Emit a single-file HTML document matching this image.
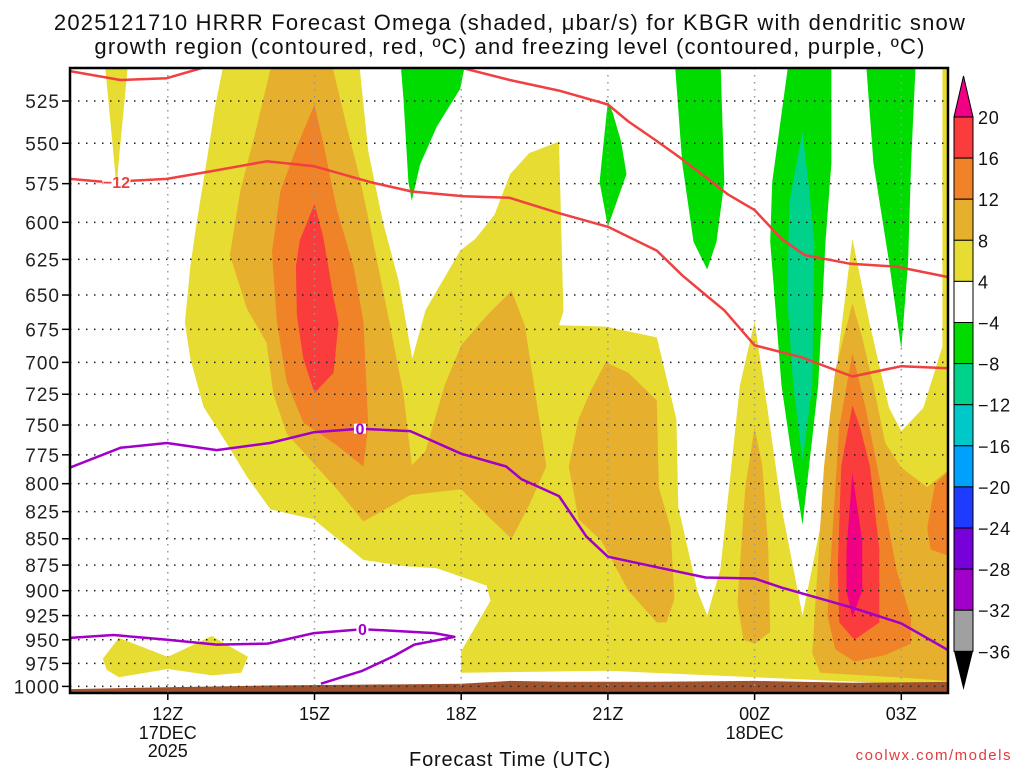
<!DOCTYPE html>
<html><head><meta charset="utf-8"><style>
body{margin:0;background:#fff;}
svg{display:block;font-family:"Liberation Sans",sans-serif;}
</style></head><body>
<svg id="chart" width="1024" height="768" viewBox="0 0 1024 768">
<defs><clipPath id="plotclip"><rect x="70" y="68" width="878" height="625"/></clipPath></defs>
<g id="titles">
<text x="510" y="30" text-anchor="middle" font-size="22" letter-spacing="1.2" fill="#111">2025121710 HRRR Forecast Omega (shaded, μbar/s) for KBGR with dendritic snow</text>
<text x="510" y="54" text-anchor="middle" font-size="22" letter-spacing="1.2" fill="#111">growth region (contoured, red, ºC) and freezing level (contoured, purple, ºC)</text>
</g>
<g id="shade" clip-path="url(#plotclip)"></g>
<g id="grid"></g>
<g id="lines" clip-path="url(#plotclip)"></g>
<g id="axes"></g>
<g id="cbar"></g>
<text x="510" y="766" text-anchor="middle" font-size="20" letter-spacing="0.8" fill="#111">Forecast Time (UTC)</text>
<text x="1012" y="760" text-anchor="end" font-size="15" fill="#e03c3c" letter-spacing="1.5">coolwx.com/models</text>
</svg>
<script>
// ---- data ----
const pressureTicks=[525,550,575,600,625,650,675,700,725,750,775,800,825,850,875,900,925,950,975,1000];
const timeTickHours=[12,15,18,21,24,27];
const timeTickLabels=["12Z","15Z","18Z","21Z","00Z","03Z"];
const dateLabelHours=[12,24];
const dateLabels=[["17DEC","2025"],["18DEC"]];
const cbarLevels=["20","16","12","8","4","−4","−8","−12","−16","−20","−24","−28","−32","−36"];
const cbarColors=["#fa3c3c","#f08228","#e6af2d","#e6dc32","#ffffff","#00dc00","#00d28c","#00c8c8","#00a0ff","#1e3cff","#7800d8","#a000c8","#a0a0a0"];
// shaded regions: [hour, pressure] outlines
const whiteLeft=[[10,500],[13.17,500],[12.97,528],[12.8,560],[12.59,600],[12.46,630],[12.35,670],[12.46,697],[12.73,735],[13.2,765],[13.62,794],[14.1,823],[14.98,832],[16.0,870],[16.82,876],[17.5,878],[18.52,895],[18.6,910],[18,962],[18,985],[18,1010],[10,1010]];
const whiteMid=[[15.9,500],[27.84,500],[27.84,688],[27.45,736],[27,755],[26.75,736],[26.36,672],[26.0,611],[25.73,687],[25.34,840],[24.98,925],[24.55,821],[24.32,752],[24.0,669],[23.7,718],[23.3,879],[23.03,925],[22.83,900],[22.44,821],[22.4,745],[22.0,681],[20.95,673],[20.0,672],[20.09,662],[20.0,549],[19.39,556],[19.0,569],[18.68,595],[18.29,611],[17.98,619],[17.27,661],[17.0,697],[16.72,640],[16.4,600],[16.1,555]];
const whiteBottom=[[18,985],[21,983],[24,990],[27,997],[28.2,998],[28.2,1010],[18,1010]];
const yellowSliver=[[10.7,500],[11.2,500],[11.0,560],[10.95,578],[10.9,560]];
const yellowLow=[[10.67,970],[11.0,948],[12,968],[12.9,946],[13.64,968],[13.5,985],[12.9,988],[12,981],[11.0,990],[10.75,982]];
const orange8a=[[14.16,500],[15.32,500],[15.66,540],[15.93,572],[16.2,613],[16.55,673],[16.82,725],[16.99,784],[17.27,772],[17.66,718],[18.0,687],[18.52,665],[19.03,647],[19.3,672],[19.62,751],[19.74,785],[19.39,819],[19.03,850],[18.52,828],[18.0,805],[16.96,810],[16.0,834],[15.46,805],[14.91,779],[14.43,757],[14.16,725],[14.02,685],[13.62,660],[13.27,622],[13.48,580],[13.82,540]];
const orange8b=[[20.95,700],[21.42,708],[22.0,730],[22.04,803],[22.28,840],[22.36,908],[22.2,932],[22.0,932],[21.42,900],[20.87,852],[20.4,832],[20.2,785],[20.4,745],[20.64,723]];
const orange8c=[[24.0,752],[24.16,785],[24.28,860],[24.32,942],[24.0,954],[23.77,950],[23.65,912],[23.81,803]];
const orange8d=[[26.0,656],[26.2,681],[26.43,718],[26.67,765],[27,786],[27.53,803],[28.2,780],[28.2,995],[26.9,990],[25.34,985],[25.18,964],[25.26,900],[25.42,785],[25.65,706]];
const orange12a=[[15.0,527],[15.18,550],[15.46,592],[15.8,630],[16.0,669],[16.1,751],[16.0,785],[15.46,767],[14.77,748],[14.43,715],[14.23,669],[14.13,620],[14.3,580],[14.64,552]];
const orange12b=[[26.0,693],[26.27,736],[26.59,803],[26.9,879],[27.2,928],[27.2,954],[26.67,966],[26.04,973],[25.65,960],[25.49,925],[25.57,860],[25.73,752]];
const orange12c=[[28.2,780],[27.69,800],[27.53,840],[27.6,860],[28.2,870]];
const red16a=[[15.0,588],[15.18,610],[15.39,652],[15.49,670],[15.39,708],[15.0,724],[14.77,697],[14.64,665],[14.62,630],[14.7,612]];
const red16b=[[26.0,734],[26.16,752],[26.36,785],[26.55,860],[26.55,932],[26.04,950],[25.73,932],[25.7,879],[25.77,785]];
const mag20=[[26.0,791],[26.2,852],[26.2,900],[26.0,927],[25.88,900],[25.88,860]];
const green1=[[16.75,500],[18.11,500],[17.98,518],[17.5,540],[17.16,563],[16.99,586],[16.92,574],[16.82,524]];
const green2=[[21,525],[21.1,532],[21.27,549],[21.38,569],[21,603],[20.83,574],[20.87,562]];
const green3=[[22.36,500],[23.3,500],[23.38,574],[23.22,613],[23.03,632],[22.75,613],[22.52,562]];
const green4=[[24.71,500],[25.57,500],[25.57,562],[25.45,613],[25.3,718],[24.98,837],[24.79,785],[24.55,718],[24.32,613],[24.36,574]];
const green5=[[26.27,500],[27.3,500],[27.2,562],[27.14,627],[27.0,690],[26.75,627],[26.43,562]];
const teal1=[[24.98,543],[25.1,574],[25.22,613],[25.18,718],[24.98,780],[24.79,718],[24.67,653],[24.71,587]];
const groundHours=[10,12,14,16,18,19,20,22,24,26,28.2];
const groundPressures=[1003,1001,999,998,997,994,995,995,994,996,995];
// contour lines
const redUpperHours=[10,11.03,11.98,12.73,15,18.13,18.99,20.0,21.0,21.42,21.97,22.44,23.0,23.46,24.0,24.55,25.02,25.96,26.9,28.2];
const redUpperP=[508,513,512,506,490,507,513,519,527,537,548,558,571,582,592,611,622,628,630,639];
const redLowerHours=[10,10.75,11.98,12.93,14.02,14.98,16.14,16.99,18.05,18.99,20.0,21.0,22.0,22.52,23.0,23.38,24.0,24.95,26.0,27.0,28.2];
const redLowerP=[572,574,572,567,561,564,574,580,583,584,594,603,619,636,650,661,687,696,711,703,705];
const frzHours=[10,11.03,11.98,13.0,14.09,14.98,15.93,16.96,18,18.92,19.23,20.0,20.56,21.0,22.0,23.0,24.0,24.55,26.0,27.0,28.2];
const frzP=[786,769,765,771,765,756,753,755,774,785,796,811,848,867,877,887,888,897,917,933,968];
const frzLowHours=[10,10.89,11.99,13.0,14.04,14.99,15.98,16.77,17.45,17.86,17.04,16.63,15.98,15.13];
const frzLowP=[948,945,950,955,954,943,939,941,943,947,955,967,983,997];

// ---- axes ----
const X=h=>70+(h-10)*48.9;
const Y=p=>101+908.5*Math.log(p/525);
const NS="http://www.w3.org/2000/svg";
function mk(tag,attrs,parent){const e=document.createElementNS(NS,tag);for(const k in attrs)e.setAttribute(k,attrs[k]);parent.appendChild(e);return e;}
const shade=document.getElementById('shade');
function poly(pts,fill,name){
  const e=mk('polygon',{points:pts.map(q=>X(q[0]).toFixed(1)+','+Y(q[1]).toFixed(1)).join(' '),fill:fill},shade);
  
  
}
const bg=mk('rect',{x:70,y:68,width:878,height:625,fill:'#e6dc32'},shade);


poly(whiteLeft,'#fff','shade-white-left');
poly(whiteMid,'#fff','shade-white-middle');
poly(whiteBottom,'#fff','shade-white-bottom');
poly(yellowSliver,'#e6dc32','shade-4-8-sliver');
poly(yellowLow,'#e6dc32','shade-4-8-lowlevel');
[orange8a,orange8b,orange8c,orange8d].forEach((a,i)=>poly(a,'#e6af2d','shade-8-12-'+i));
[orange12a,orange12b,orange12c].forEach((a,i)=>poly(a,'#f08228','shade-12-16-'+i));
[red16a,red16b].forEach((a,i)=>poly(a,'#fa3c3c','shade-16-20-'+i));
poly(mag20,'#f00082','shade-above-20');
[green1,green2,green3,green4,green5].forEach((a,i)=>poly(a,'#00dc00','shade-minus4-minus8-'+i));
poly(teal1,'#00d28c','shade-minus8-minus12');
const gpts=groundHours.map((h,i)=>[h,groundPressures[i]]).concat([[28.2,1020],[10,1020]]);
poly(gpts,'#a0522d','terrain');

// grid
const grid=document.getElementById('grid');
pressureTicks.forEach(p=>{
  const l=mk('line',{x1:70,x2:948,y1:Y(p),y2:Y(p),stroke:'#222','stroke-width':1.5,'stroke-dasharray':'1.5 6.5'},grid);
  
  
});
timeTickHours.forEach(h=>{
  const l=mk('line',{x1:X(h),x2:X(h),y1:68,y2:693,stroke:'#999','stroke-width':1.5,'stroke-dasharray':'1.5 5.5'},grid);
  
  
});

// lines
const lines=document.getElementById('lines');
function pl(hs,ps,color,name){
  const e=mk('polyline',{points:hs.map((h,i)=>X(h).toFixed(1)+','+Y(ps[i]).toFixed(1)).join(' '),fill:'none',stroke:color,'stroke-width':2.5,'stroke-linejoin':'round'},lines);
  
  
}
pl(redUpperHours,redUpperP,'#f04040','dgz-contour-upper');
pl(redLowerHours,redLowerP,'#f04040','dgz-contour-minus12');
pl(frzHours,frzP,'#a000c8','freezing-level-upper');
pl(frzLowHours,frzLowP,'#a000c8','freezing-level-lower');
function lab(h,p,t,color,name,w){
  const r=mk('rect',{x:X(h)-w/2,y:Y(p)-5,width:w,height:10,fill:'#fff'},lines);
  
  
  const tx=mk('text',{x:X(h),y:Y(p)+6,'text-anchor':'middle','font-size':16,'font-weight':'bold',fill:color},lines);
  tx.textContent=t;
  
  
}
lab(10.95,574,'−12','#f04040','contour-label-minus12',28);
lab(15.93,753,'0','#a000c8','contour-label-zero-upper',12);
lab(15.98,939,'0','#a000c8','contour-label-zero-lower',12);
// axes
const axes=document.getElementById('axes');
const fr=mk('rect',{x:70,y:68,width:878,height:625,fill:'none',stroke:'#000','stroke-width':2.5},axes);


pressureTicks.forEach(p=>{
  const t=mk('line',{x1:62,x2:70,y1:Y(p),y2:Y(p),stroke:'#000','stroke-width':1.5},axes);
  
  
  const tx=mk('text',{x:60,y:Y(p)+7,'text-anchor':'end','font-size':19,'letter-spacing':1,fill:'#222'},axes);
  tx.textContent=p;
  
  
});
timeTickHours.forEach((h,i)=>{
  const t=mk('line',{x1:X(h),x2:X(h),y1:693,y2:700,stroke:'#000','stroke-width':1.5},axes);
  
  
  const tx=mk('text',{x:X(h),y:720,'text-anchor':'middle','font-size':18,fill:'#111'},axes);
  tx.textContent=timeTickLabels[i];
  
  
});
dateLabelHours.forEach((h,i)=>{
  dateLabels[i].forEach((s,j)=>{
    const tx=mk('text',{x:X(h),y:739+j*18,'text-anchor':'middle','font-size':18,fill:'#111'},axes);
    tx.textContent=s;
    
    
  });
});
// colorbar
const cb=document.getElementById('cbar');
const cbTop=117,cbStep=41.1;
const up=mk('polygon',{points:`954,${cbTop} 973,${cbTop} 963.5,76`,fill:'#f00082',stroke:'#000','stroke-width':1},cb);


cbarColors.forEach((c,i)=>{
  const r=mk('rect',{x:954,y:cbTop+i*cbStep,width:19,height:cbStep,fill:c,stroke:'#000','stroke-width':1},cb);
  
  
});
const bot=cbTop+cbarColors.length*cbStep;
const dn=mk('polygon',{points:`954,${bot} 973,${bot} 963.5,690`,fill:'#000'},cb);


cbarLevels.forEach((s,i)=>{
  const tx=mk('text',{x:978,y:cbTop+i*cbStep+7,'font-size':18,'letter-spacing':0.8,fill:'#111'},cb);
  tx.textContent=s;
  
  
});
</script>
</body></html>
